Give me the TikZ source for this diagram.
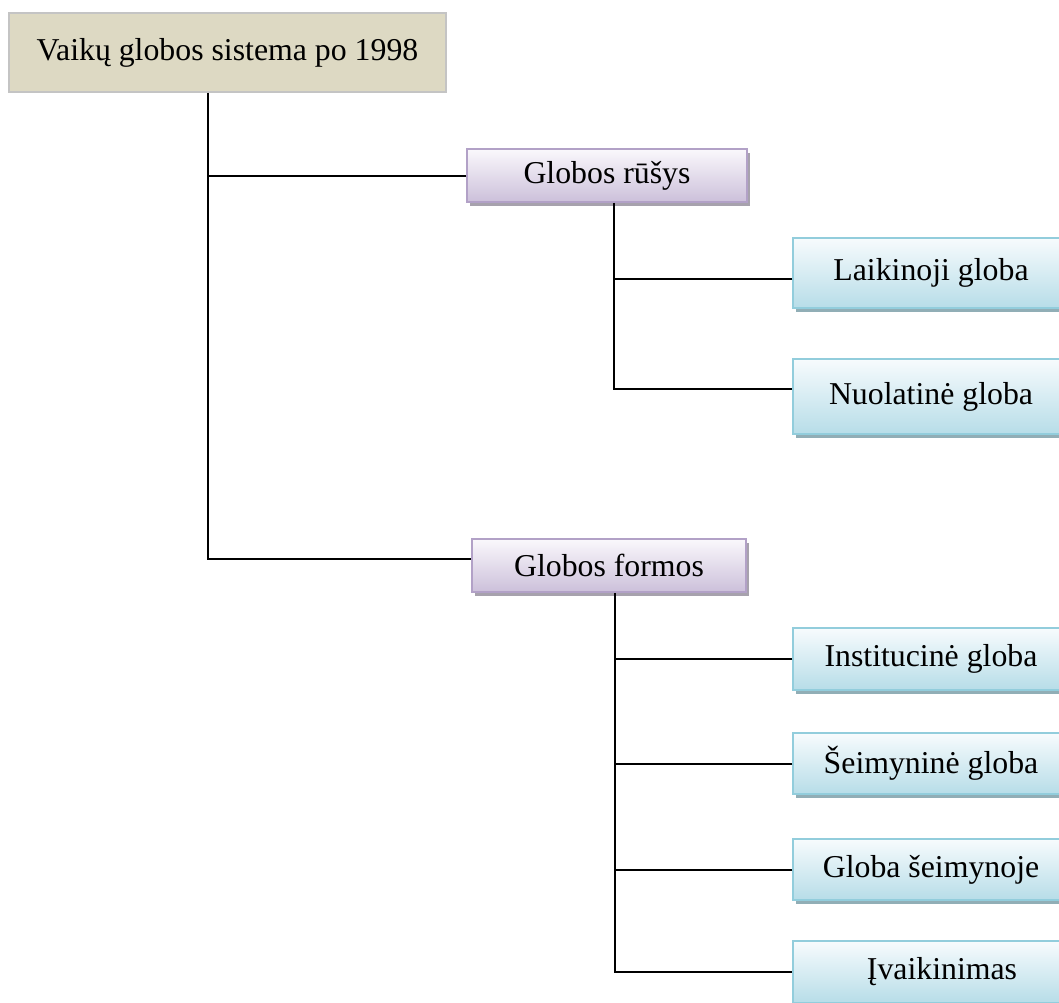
\documentclass[tikz,border=0pt]{standalone}
\usepackage{fontspec}
\setmainfont{Liberation Serif}
\usetikzlibrary{shadows}

\definecolor{rootfill}{HTML}{DDD9C3}
\definecolor{rootline}{HTML}{C4C4C4}
\definecolor{purptop}{HTML}{FAF8FC}
\definecolor{purpbot}{HTML}{CCC0DA}
\definecolor{purpline}{HTML}{B2A1C7}
\definecolor{purpshade}{HTML}{A7A2AD}
\definecolor{bluetop}{HTML}{F7FBFD}
\definecolor{bluebot}{HTML}{B7DDE8}
\definecolor{blueline}{HTML}{92CDDC}
\definecolor{blueshade}{HTML}{91AEB6}

\tikzset{
  rootbox/.style={draw=rootline,line width=1.5pt,fill=rootfill,inner sep=0pt,
    minimum width=437pt,minimum height=79pt},
  purpbox/.style={draw=purpline,line width=1.5pt,top color=purptop,bottom color=purpbot,
    inner sep=0pt,minimum height=53pt,
    drop shadow={shadow xshift=3pt,shadow yshift=-4pt,fill=purpshade,opacity=1}},
  bluebox/.style={draw=blueline,line width=1.5pt,top color=bluetop,bottom color=bluebot,
    inner sep=0pt,minimum width=276pt,
    drop shadow={shadow xshift=3pt,shadow yshift=-4pt,fill=blueshade,opacity=1}},
  link/.style={line width=2pt,black}
}

\begin{document}
\begin{tikzpicture}[x=1pt,y=1pt,font=\fontsize{31.8}{36}\selectfont]
      \path[use as bounding box,clip] (0,0) rectangle (1059,-1002);
      \fill[white] (0,0) rectangle (1059,-1002);

      \node[rootbox] (root) at (227.5,-52.5) {Vaikų globos sistema po 1998};

      \node[purpbox,minimum width=280pt] (rusys) at (607,-175.5) {Globos rūšys};
      \node[purpbox,minimum width=274pt] (formos) at (609,-565.5) {Globos formos};

      \node[bluebox,minimum height=70pt] (laikinoji) at (931,-273) {Laikinoji globa};
      \node[bluebox,minimum height=75pt] (nuolatine) at (931,-396.5) {Nuolatinė globa};

      \node[bluebox,minimum height=62pt] (instit) at (931,-659) {Institucinė globa\hspace{24pt}};
      \node[bluebox,minimum height=61pt] (seimyn) at (931,-763.5) {Šeimyninė globa};
      \node[bluebox,minimum height=61pt] (seimoje) at (931,-869.5) {Globa šeimynoje};
      \node[bluebox,minimum height=62pt] (ivaik) at (931,-972) {\hspace{22pt}Įvaikinimas};

      \coordinate (rootfoot) at ([xshift=-19.5pt]root.south);
      \coordinate (rusfoot) at ([xshift=7pt]rusys.south);
      \coordinate (formfoot) at ([xshift=6pt]formos.south);

      % main trunk
      \draw[link] (rootfoot) |- ([yshift=7pt]formos.west);
      \draw[link] (rusys.west) -- (rusys.west -| rootfoot);

      % globos rusys
      \draw[link] (rusfoot) |- ([yshift=7.5pt]nuolatine.west);
      \draw[link] ([yshift=-6pt]laikinoji.west) -- ([yshift=-6pt]laikinoji.west -| rusfoot);

      % globos formos
      \draw[link] (formfoot) |- (ivaik.west);
      \draw[link] (instit.west) -- (instit.west -| formfoot);
      \draw[link] (seimyn.west) -- (seimyn.west -| formfoot);
      \draw[link] (seimoje.west) -- (seimoje.west -| formfoot);
    \end{tikzpicture}
\end{document}
